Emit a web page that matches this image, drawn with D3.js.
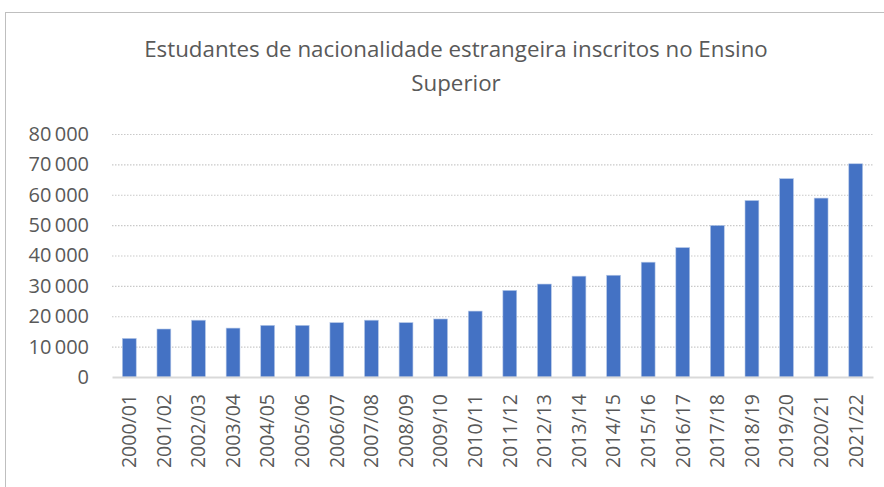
<!DOCTYPE html>
<html>
<head>
<meta charset="utf-8">
<script src="https://cdn.jsdelivr.net/npm/d3@7"></script>
<style>
  body { margin: 0; background: #fff; }
  svg { display: block; }
</style>
</head>
<body>
<svg id="chart" width="884" height="487"></svg>
<script>
const years = ['2000/01', '2001/02', '2002/03', '2003/04', '2004/05', '2005/06',
  '2006/07', '2007/08', '2008/09', '2009/10', '2010/11', '2011/12', '2012/13',
  '2013/14', '2014/15', '2015/16', '2016/17', '2017/18', '2018/19', '2019/20',
  '2020/21', '2021/22']
const students = [12700, 15800, 18700, 16100, 17000, 17000, 17900, 18700, 17900,
  19100, 21700, 28500, 30600, 33200, 33500, 37800, 42600, 49900, 58100, 65300,
  58900, 70200]
const yTicks = [0, 10000, 20000, 30000, 40000, 50000, 60000, 70000, 80000]
const titleLines = ['Estudantes de nacionalidade estrangeira inscritos no Ensino', 'Superior']

const svg = d3.select('#chart')
const margin = { left: 112, right: 11, top: 134, bottom: 110 }
const width = +svg.attr('width')
const height = +svg.attr('height')

// chart frame
svg.append('rect')
  .attr('x', 5.5).attr('y', 12.5)
  .attr('width', width - 5).attr('height', height)
  .attr('fill', 'none')
  .attr('stroke', '#bfbfbf')

const x = d3.scaleBand()
  .domain(years)
  .range([margin.left, width - margin.right])
  .paddingInner(0.6)
  .paddingOuter(0.3)

const y = d3.scaleLinear()
  .domain([0, 80000])
  .range([377, margin.top])

const fmt = v => d3.format(',')(v).replace(',', '\u2009')

// gridlines
svg.append('g')
  .selectAll('line')
  .data(yTicks.slice(1))
  .join('line')
    .attr('x1', margin.left).attr('x2', width - margin.right)
    .attr('y1', d => y(d) + 0.5).attr('y2', d => y(d) + 0.5)
    .attr('stroke', '#c9c9c9')
    .attr('stroke-width', 1.2)
    .attr('stroke-dasharray', '1.5,1.5')

// y axis labels
const yAxis = svg.append('g')
  .attr('transform', `translate(${margin.left - 23},0)`)
  .call(d3.axisLeft(y).tickValues(yTicks).tickFormat(fmt).tickSize(0).tickPadding(0))
yAxis.select('.domain').remove()
yAxis.selectAll('text')
  .attr('font-family', 'Open Sans, sans-serif')
  .attr('font-size', 20)
  .attr('fill', '#595959')

// bars
svg.append('g')
  .selectAll('rect')
  .data(students)
  .join('rect')
    .attr('x', (d, i) => x(years[i]))
    .attr('y', d => y(d))
    .attr('width', x.bandwidth())
    .attr('height', d => y(0) - y(d))
    .attr('fill', '#4472c4')
    .attr('stroke', '#b4c7e7')
    .attr('stroke-width', 0.6)

// x axis
const xAxis = svg.append('g')
  .attr('transform', `translate(0,${y(0)})`)
  .call(d3.axisBottom(x).tickSize(0).tickPadding(0))
xAxis.select('.domain')
  .attr('stroke', '#d9d9d9')
  .attr('stroke-width', 2)
xAxis.selectAll('text')
  .attr('font-family', 'Open Sans, sans-serif')
  .attr('font-size', 19.5)
  .attr('fill', '#595959')
  .attr('text-anchor', 'end')
  .attr('dy', '0.35em')
  .attr('transform', 'translate(0,17) rotate(-90)')

// title
svg.append('text')
  .attr('text-anchor', 'middle')
  .attr('font-family', 'Open Sans, sans-serif')
  .attr('font-size', 22.3)
  .attr('fill', '#595959')
  .selectAll('tspan')
  .data(titleLines)
  .join('tspan')
    .attr('x', 456)
    .attr('y', (d, i) => 57 + i * 34)
    .text(d => d)
</script>
</body>
</html>
